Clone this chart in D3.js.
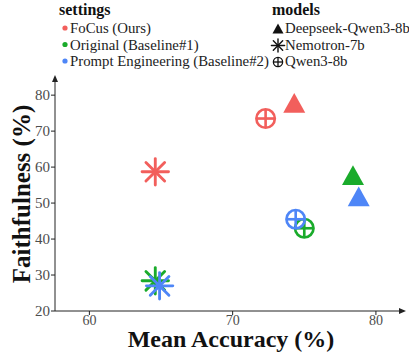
<!DOCTYPE html>
<html>
<head>
<meta charset="utf-8">
<script src="https://cdn.jsdelivr.net/npm/d3@7"></script>
<style>
  body { margin: 0; background: #fff; }
  text { font-family: "Liberation Serif", "DejaVu Serif", serif; }
</style>
</head>
<body>
<svg id="chart" width="409" height="352"></svg>
<script>
var settings = ["FoCus (Ours)", "Original (Baseline#1)", "Prompt Engineering (Baseline#2)"];
var models = ["Deepseek-Qwen3-8b", "Nemotron-7b", "Qwen3-8b"];
var colors = ["#f25f5c", "#1aab2b", "#4e86f7"];
var xTicks = [60, 70, 80];
var yTicks = [20, 30, 40, 50, 60, 70, 80];

// [setting index, model index, accuracy, faithfulness]
var points = [
  [0, 0, 74.3, 77.6],
  [0, 1, 64.6, 58.7],
  [0, 2, 72.3, 73.5],
  [1, 0, 78.4, 57.5],
  [1, 1, 64.6, 28.4],
  [1, 2, 75.0, 43.0],
  [2, 0, 78.8, 51.6],
  [2, 1, 64.9, 27.0],
  [2, 2, 74.4, 45.5]
];

var svg = d3.select("#chart");

var x = d3.scaleLinear().domain([57.6, 82.1]).range([55, 406]);
var y = d3.scaleLinear().domain([20, 85.6]).range([311, 75]);

// axes
var axisColor = "#222";
svg.append("line").attr("x1", x.range()[0]).attr("x2", x.range()[1] - 4)
  .attr("y1", y(20)).attr("y2", y(20)).attr("stroke", axisColor).attr("stroke-width", 1);
svg.append("path")
  .attr("d", "M" + x.range()[1] + "," + y(20) + " l-7,-3 l0,6 z")
  .attr("fill", axisColor);
svg.append("line").attr("x1", x.range()[0]).attr("x2", x.range()[0])
  .attr("y1", y(20)).attr("y2", y.range()[1] + 4).attr("stroke", axisColor).attr("stroke-width", 1);
svg.append("path")
  .attr("d", "M" + x.range()[0] + "," + y.range()[1] + " l-3,7 l6,0 z")
  .attr("fill", axisColor);

xTicks.forEach(function(t) {
  svg.append("line").attr("x1", x(t)).attr("x2", x(t))
    .attr("y1", y(20)).attr("y2", y(20) + 4).attr("stroke", axisColor);
  svg.append("text").attr("x", x(t)).attr("y", y(20) + 14)
    .attr("text-anchor", "middle").attr("font-size", 14).attr("fill", "#4d4d4d").text(t);
});
yTicks.forEach(function(t) {
  svg.append("line").attr("x1", x.range()[0] - 4).attr("x2", x.range()[0])
    .attr("y1", y(t)).attr("y2", y(t)).attr("stroke", axisColor);
  svg.append("text").attr("x", x.range()[0] - 5).attr("y", y(t) + 5)
    .attr("text-anchor", "end").attr("font-size", 15).attr("fill", "#4d4d4d").text(t);
});

svg.append("text").attr("x", 231).attr("y", 347).attr("text-anchor", "middle")
  .attr("font-size", 24).attr("font-weight", "bold").attr("fill", "#111")
  .text("Mean Accuracy (%)");
svg.append("text").attr("transform", "translate(30,194) rotate(-90)")
  .attr("text-anchor", "middle").attr("font-size", 25).attr("font-weight", "bold").attr("fill", "#111")
  .text("Faithfulness (%)");

// marker shapes
function drawMarker(g, m, color, size) {
  if (m === 0) {
    var h = size * 0.9, w = size;
    g.append("path").attr("d", "M0," + (-h * 0.55) + " L" + (w / 2) + "," + (h * 0.45) +
      " L" + (-w / 2) + "," + (h * 0.45) + " Z").attr("fill", color);
  } else if (m === 1) {
    var r = size * 0.6;
    for (var i = 0; i < 4; i++) {
      var a = i * Math.PI / 4;
      g.append("line").attr("x1", -r * Math.cos(a)).attr("y1", -r * Math.sin(a))
        .attr("x2", r * Math.cos(a)).attr("y2", r * Math.sin(a))
        .attr("stroke", color).attr("stroke-width", size * 0.13).attr("stroke-linecap", "round");
    }
  } else {
    var rc = size * 0.42;
    g.append("circle").attr("r", rc).attr("fill", "none").attr("stroke", color).attr("stroke-width", size * 0.12);
    g.append("line").attr("x1", -rc).attr("x2", rc).attr("stroke", color).attr("stroke-width", size * 0.12);
    g.append("line").attr("y1", -rc).attr("y2", rc).attr("stroke", color).attr("stroke-width", size * 0.12);
  }
}

points.forEach(function(p) {
  var g = svg.append("g").attr("transform", "translate(" + x(p[2]) + "," + y(p[3]) + ")");
  drawMarker(g, p[1], colors[p[0]], 22);
});

// legends
svg.append("text").attr("x", 59).attr("y", 15).attr("font-size", 16).attr("font-weight", "bold")
  .attr("fill", "#111").text("settings");
settings.forEach(function(s, i) {
  var yy = 29 + i * 16.5;
  svg.append("circle").attr("cx", 65).attr("cy", yy - 1).attr("r", 2.6).attr("fill", colors[i]);
  svg.append("text").attr("x", 70).attr("y", yy + 4).attr("font-size", 14.8).attr("fill", "#222").text(s);
});
svg.append("text").attr("x", 272).attr("y", 15).attr("font-size", 16).attr("font-weight", "bold")
  .attr("fill", "#111").text("models");
models.forEach(function(s, i) {
  var yy = 29 + i * 16.5;
  var g = svg.append("g").attr("transform", "translate(278," + yy + ")");
  drawMarker(g, i, "#111", 11);
  svg.append("text").attr("x", 285).attr("y", yy + 4).attr("font-size", 14.8).attr("fill", "#222").text(s);
});
</script>
</body>
</html>
